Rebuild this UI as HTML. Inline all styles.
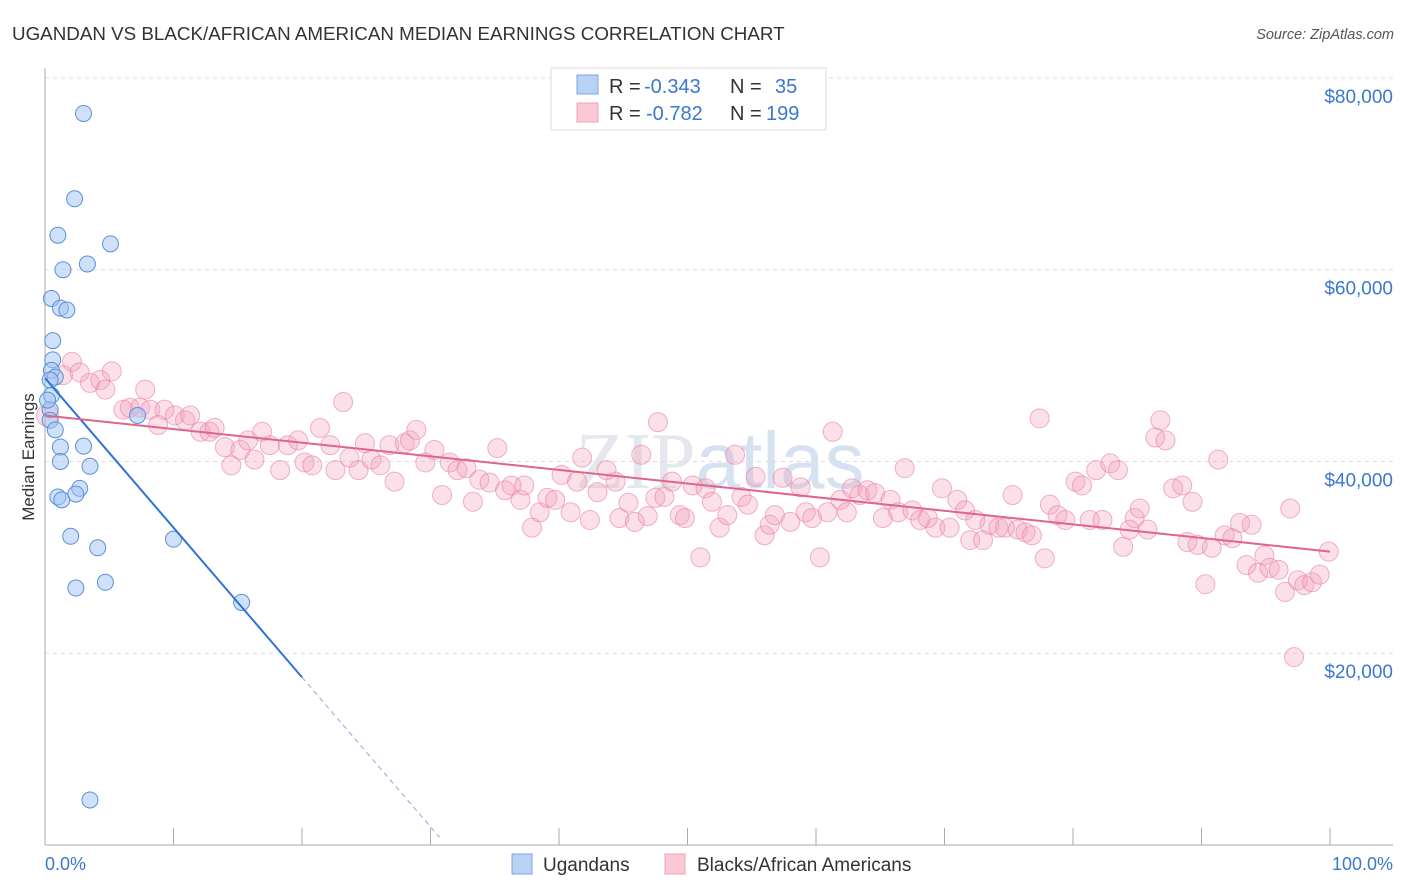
<!DOCTYPE html>
<html><head><meta charset="utf-8"><style>
body{margin:0;background:#fff;font-family:"Liberation Sans",sans-serif}
</style></head><body>
<svg width="1406" height="892" xmlns="http://www.w3.org/2000/svg" style="display:block">
<text x="12" y="40" font-size="18.8" fill="#333">UGANDAN VS BLACK/AFRICAN AMERICAN MEDIAN EARNINGS CORRELATION CHART</text>
<text x="1394" y="39" font-size="14.5" fill="#555" font-style="italic" text-anchor="end">Source: ZipAtlas.com</text>
<text x="720" y="488" font-size="80" fill="#e4e8ee" text-anchor="middle" font-family="Liberation Serif">ZIP<tspan fill="#d6e2f2" font-family="Liberation Sans">atlas</tspan></text>
<g id="grid"></g>
<g id="axes"></g>
<text transform="translate(34,457) rotate(-90)" font-size="17" fill="#333" text-anchor="middle">Median Earnings</text>
<g id="pink"></g><g id="blue"></g><g id="lines"></g>
<g>
<rect x="551" y="68" width="275" height="62" fill="#fff" stroke="#ddd"/>
<rect x="577" y="75" width="21" height="19" fill="#b7d2f5" stroke="#7ba6e0"/>
<rect x="577" y="103" width="21" height="19" fill="#fbc8d6" stroke="#eea0b8"/>
<text x="609" y="93" font-size="20" fill="#333">R = <tspan x="644" fill="#3a78d0">-0.343</tspan><tspan x="730">N = </tspan><tspan x="775" fill="#3a78d0">35</tspan></text>
<text x="609" y="120" font-size="20" fill="#333">R = <tspan x="646" fill="#3a78d0">-0.782</tspan><tspan x="730">N = </tspan><tspan x="766" fill="#3a78d0">199</tspan></text>
</g>
<g>
<rect x="512" y="854" width="20" height="20" fill="#b7d2f5" stroke="#7ba6e0"/>
<text x="543" y="871" font-size="19" fill="#333">Ugandans</text>
<rect x="665" y="854" width="20" height="20" fill="#fbc8d6" stroke="#eea0b8"/>
<text x="697" y="871" font-size="19" fill="#333">Blacks/African Americans</text>
</g>
<text x="45" y="870" font-size="18" fill="#3a78d0">0.0%</text>
<text x="1393" y="870" font-size="18" fill="#3a78d0" text-anchor="end">100.0%</text>
</svg>
<script>
const yTicks=[20000,40000,60000,80000];
const yTickLabels=["$20,000","$40,000","$60,000","$80,000"];
const blueX=[3.0,2.3,1.0,5.1,3.3,1.4,0.5,1.2,1.7,0.6,0.6,0.5,0.8,0.4,0.5,0.4,7.2,1.2,3.0,1.2,3.5,2.7,1.0,1.3,2.4,2.0,4.1,10.0,2.4,4.7,15.3,3.5,0.4,0.8,0.2];
const blueY=[76.3,67.4,63.6,62.7,60.6,60.0,57.0,56.0,55.8,52.6,50.6,49.5,48.8,48.5,46.9,45.4,44.8,41.5,41.6,40.0,39.5,37.2,36.3,36.0,36.6,32.2,31.0,31.9,26.8,27.4,25.3,4.7,44.3,43.3,46.4];
const pinkX=[0.2,2.1,1.4,2.7,3.5,4.3,5.2,4.7,7.8,6.1,6.6,7.4,8.2,8.8,9.3,10.1,10.9,11.3,12.1,12.8,13.2,14.0,14.5,15.2,15.8,16.3,16.9,17.5,18.3,18.9,19.7,20.2,20.8,21.4,22.2,22.6,23.2,23.7,24.4,24.9,25.4,26.1,26.8,27.2,28.0,28.4,28.9,29.6,30.3,30.9,31.5,32.1,32.8,33.3,33.8,34.6,35.2,35.8,36.3,37.0,37.3,37.9,38.5,39.1,39.7,40.2,40.9,41.4,41.8,42.4,43.0,43.7,44.4,44.7,45.4,45.9,46.4,46.9,47.5,47.7,48.2,48.8,49.4,49.8,50.4,51.0,51.4,51.9,52.5,53.1,53.7,54.2,54.7,55.3,56.0,56.4,56.8,57.4,58.0,58.8,59.2,59.7,60.3,60.9,61.3,61.9,62.4,62.8,63.4,64.0,64.6,65.2,65.8,66.4,66.9,67.5,68.1,68.7,69.3,69.8,70.4,71.0,71.6,72.0,72.4,73.0,73.5,74.2,74.7,75.3,75.7,76.3,76.8,77.4,77.8,78.2,78.8,79.4,80.2,80.7,81.3,81.8,82.3,82.9,83.5,83.9,84.4,84.8,85.2,85.8,86.4,86.8,87.2,87.8,88.5,88.9,89.3,89.7,90.3,90.8,91.3,91.8,92.4,93.0,93.5,93.9,94.4,94.9,95.3,96.0,96.5,96.9,97.5,98.0,98.6,99.2,99.9,97.2];
const pinkY=[44.8,50.4,49.0,49.3,48.2,48.5,49.4,47.5,47.5,45.4,45.6,45.6,45.4,43.8,45.4,44.8,44.3,44.8,43.1,43.1,43.5,41.5,39.6,41.2,42.2,40.2,43.1,41.7,39.1,41.7,42.2,39.9,39.6,43.5,41.7,39.1,46.2,40.4,39.1,41.9,40.2,39.6,41.7,37.9,41.9,42.2,43.3,39.9,41.2,36.5,39.9,39.1,39.3,35.8,38.1,37.8,41.4,37.0,37.5,36.0,37.5,33.1,34.7,36.2,36.0,38.6,34.7,37.9,40.4,33.9,36.8,39.1,37.9,34.1,35.7,33.7,40.7,34.3,36.2,44.1,36.3,37.9,34.4,34.1,37.5,30.0,37.2,35.8,33.1,34.4,40.7,36.3,35.5,38.4,32.3,33.4,34.4,38.3,33.7,37.3,34.7,34.1,30.0,34.7,43.1,36.0,34.7,37.2,36.5,37.0,36.7,34.1,36.0,34.7,39.3,34.9,33.9,34.1,33.1,37.2,33.1,36.0,34.9,31.8,33.9,31.8,33.4,33.1,33.1,36.5,32.9,32.6,32.3,44.5,29.9,35.5,34.4,33.9,37.9,37.5,33.9,39.1,33.9,39.8,39.1,31.1,32.9,34.1,35.1,32.9,42.5,44.3,42.2,37.2,37.5,31.6,35.8,31.3,27.2,31.0,40.2,32.3,32.0,33.6,29.2,33.4,28.4,30.2,28.9,28.7,26.4,35.1,27.6,27.1,27.4,28.2,30.6,19.6];
const blueTrend=[48.7,17.5,30.7];
const pinkTrend=[44.8,30.6];
const NS="http://www.w3.org/2000/svg";
const X=p=>45+p*12.85;
const Y=v=>845-v/0.10430;
const Yd=d=>Y(d/1000);
function mk(t,a,parent){const e=document.createElementNS(NS,t);for(const k in a)e.setAttribute(k,a[k]);parent.appendChild(e);return e;}
const grid=document.getElementById('grid');
yTicks.forEach((t,i)=>{
 const l=mk('line',{x1:45,x2:1393,y1:Yd(t),y2:Yd(t),stroke:'#ddd','stroke-dasharray':'4,4'},grid);
 
 
 const tx=mk('text',{x:1393,y:Yd(t)+25,'font-size':19,fill:'#3a78d0','text-anchor':'end'},grid);
 tx.textContent=yTickLabels[i];
 
 
});
const ax=document.getElementById('axes');
const yl=mk('line',{x1:45,x2:45,y1:68,y2:845,stroke:'#aaa'},ax);


const xl=mk('line',{x1:45,x2:1393,y1:845,y2:845,stroke:'#aaa'},ax);


for(let p=0;p<=100;p+=10){
 const t=mk('line',{x1:X(p),x2:X(p),y1:828,y2:845,stroke:'#aaa'},ax);
 
 
}
const pg=document.getElementById('pink');
pinkX.forEach((p,i)=>{
 const c=mk('circle',{cx:X(p),cy:Y(pinkY[i]),r:i==0?11:9.5,fill:'rgba(244,160,188,0.32)',stroke:'rgba(232,128,164,0.6)','stroke-width':1},pg);
 
 
});
const bg=document.getElementById('blue');
blueX.forEach((p,i)=>{
 const c=mk('circle',{cx:X(p),cy:Y(blueY[i]),r:8,fill:'rgba(160,196,242,0.5)',stroke:'#5a8fd8','stroke-width':1},bg);
 
 
});
const lg=document.getElementById('lines');
const slope=(blueTrend[1]-blueTrend[0])/20;
const b1=mk('line',{x1:X(0),y1:Y(blueTrend[0]),x2:X(20),y2:Y(blueTrend[1]),stroke:'#2f72d6','stroke-width':2},lg);


const b2=mk('line',{x1:X(20),y1:Y(blueTrend[1]),x2:X(blueTrend[2]),y2:Y(blueTrend[0]+slope*blueTrend[2]),stroke:'#8aa9d8','stroke-width':1,'stroke-dasharray':'5,4'},lg);


const p1=mk('line',{x1:X(0),y1:Y(pinkTrend[0]),x2:X(100),y2:Y(pinkTrend[1]),stroke:'#e0648e','stroke-width':2},lg);


</script>
</body></html>
